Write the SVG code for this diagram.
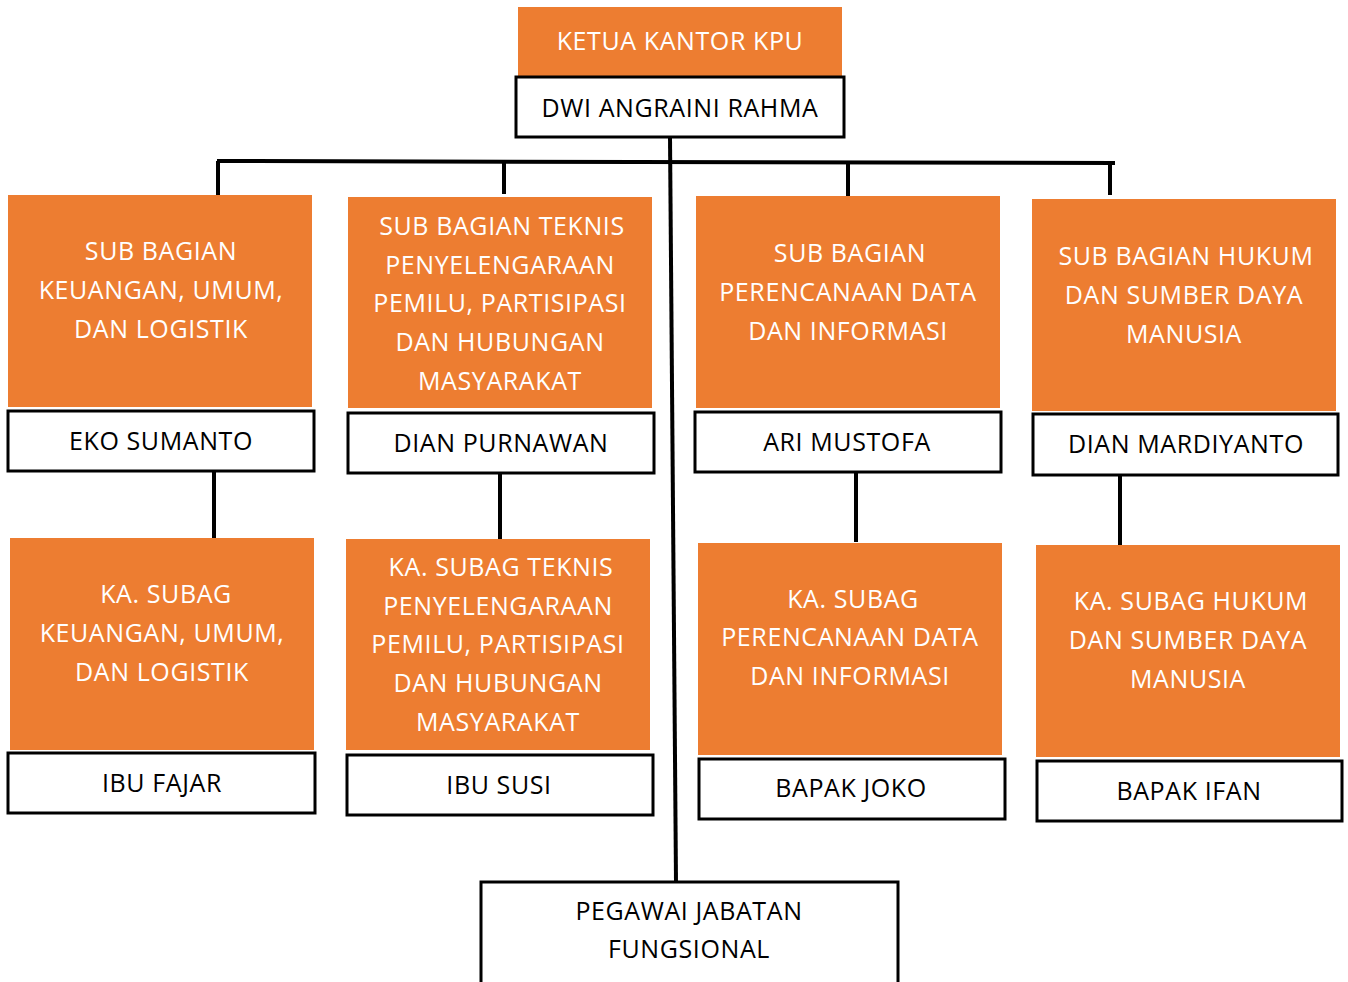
<svg xmlns="http://www.w3.org/2000/svg" width="1348" height="982" viewBox="0 0 1348 982">
<style>
.o{fill:#ED7D31}
.w{fill:#fff;stroke:#000;stroke-width:3}
.t{font-family:"Open Sans","Noto Sans",sans-serif;font-size:25px;letter-spacing:0.6px;text-anchor:middle}
.tw{fill:#fff}
.tb{fill:#000}
.c{stroke:#000;stroke-width:4;fill:none}
</style>
<rect width="1348" height="982" fill="#fff"/>
<g id="connectors">
<line class="c" x1="670" y1="137" x2="676" y2="882"/>
<line class="c" x1="217" y1="161" x2="1115" y2="163"/>
<line class="c" x1="218" y1="161" x2="218" y2="196"/>
<line class="c" x1="504" y1="162" x2="504" y2="194"/>
<line class="c" x1="848" y1="163" x2="848" y2="197"/>
<line class="c" x1="1110" y1="163" x2="1110" y2="195"/>
<line class="c" x1="214" y1="471" x2="214" y2="539"/>
<line class="c" x1="500" y1="473" x2="500" y2="540"/>
<line class="c" x1="856" y1="473" x2="856" y2="542"/>
<line class="c" x1="1120" y1="476" x2="1120" y2="546"/>
</g>
<g id="ketua">
<rect class="o" x="518" y="7" width="324" height="69"/>
<text class="t tw" x="680" y="50">KETUA KANTOR KPU</text>
<rect class="w" x="516" y="77" width="328" height="60"/>
<text class="t tb" x="680" y="117">DWI ANGRAINI RAHMA</text>
</g>
<g id="sub1">
<rect class="o" x="8" y="195" width="304" height="212"/>
<text class="t tw" x="161" y="260">SUB BAGIAN</text>
<text class="t tw" x="161" y="299">KEUANGAN, UMUM,</text>
<text class="t tw" x="161" y="338">DAN LOGISTIK</text>
<rect class="w" x="8" y="411" width="306" height="60"/>
<text class="t tb" x="161" y="450">EKO SUMANTO</text>
</g>
<g id="sub2">
<rect class="o" x="348" y="197" width="304" height="211"/>
<text class="t tw" x="502" y="235">SUB BAGIAN TEKNIS</text>
<text class="t tw" x="500" y="274">PENYELENGARAAN</text>
<text class="t tw" x="500" y="312">PEMILU, PARTISIPASI</text>
<text class="t tw" x="500" y="351">DAN HUBUNGAN</text>
<text class="t tw" x="500" y="390">MASYARAKAT</text>
<rect class="w" x="348" y="413" width="306" height="60"/>
<text class="t tb" x="501" y="452">DIAN PURNAWAN</text>
</g>
<g id="sub3">
<rect class="o" x="696" y="196" width="304" height="212"/>
<text class="t tw" x="850" y="262">SUB BAGIAN</text>
<text class="t tw" x="848" y="301">PERENCANAAN DATA</text>
<text class="t tw" x="848" y="340">DAN INFORMASI</text>
<rect class="w" x="695" y="412" width="306" height="60"/>
<text class="t tb" x="847" y="451">ARI MUSTOFA</text>
</g>
<g id="sub4">
<rect class="o" x="1032" y="199" width="304" height="212"/>
<text class="t tw" x="1186" y="265">SUB BAGIAN HUKUM</text>
<text class="t tw" x="1184" y="304">DAN SUMBER DAYA</text>
<text class="t tw" x="1184" y="343">MANUSIA</text>
<rect class="w" x="1033" y="414" width="305" height="61"/>
<text class="t tb" x="1186" y="453">DIAN MARDIYANTO</text>
</g>
<g id="ka1">
<rect class="o" x="10" y="538" width="304" height="212"/>
<text class="t tw" x="166" y="603">KA. SUBAG</text>
<text class="t tw" x="162" y="642">KEUANGAN, UMUM,</text>
<text class="t tw" x="162" y="681">DAN LOGISTIK</text>
<rect class="w" x="8" y="753" width="307" height="60"/>
<text class="t tb" x="162" y="792">IBU FAJAR</text>
</g>
<g id="ka2">
<rect class="o" x="346" y="539" width="304" height="211"/>
<text class="t tw" x="501" y="576">KA. SUBAG TEKNIS</text>
<text class="t tw" x="498" y="615">PENYELENGARAAN</text>
<text class="t tw" x="498" y="653">PEMILU, PARTISIPASI</text>
<text class="t tw" x="498" y="692">DAN HUBUNGAN</text>
<text class="t tw" x="498" y="731">MASYARAKAT</text>
<rect class="w" x="347" y="755" width="306" height="60"/>
<text class="t tb" x="499" y="794">IBU SUSI</text>
</g>
<g id="ka3">
<rect class="o" x="698" y="543" width="304" height="212"/>
<text class="t tw" x="853" y="608">KA. SUBAG</text>
<text class="t tw" x="850" y="646">PERENCANAAN DATA</text>
<text class="t tw" x="850" y="685">DAN INFORMASI</text>
<rect class="w" x="699" y="759" width="306" height="60"/>
<text class="t tb" x="851" y="797">BAPAK JOKO</text>
</g>
<g id="ka4">
<rect class="o" x="1036" y="545" width="304" height="212"/>
<text class="t tw" x="1191" y="610">KA. SUBAG HUKUM</text>
<text class="t tw" x="1188" y="649">DAN SUMBER DAYA</text>
<text class="t tw" x="1188" y="688">MANUSIA</text>
<rect class="w" x="1037" y="761" width="305" height="60"/>
<text class="t tb" x="1189" y="800">BAPAK IFAN</text>
</g>
<g id="fungsional">
<rect class="w" x="481" y="882" width="417" height="110"/>
<text class="t tb" x="689" y="920">PEGAWAI JABATAN</text>
<text class="t tb" x="689" y="958">FUNGSIONAL</text>
</g>
</svg>
